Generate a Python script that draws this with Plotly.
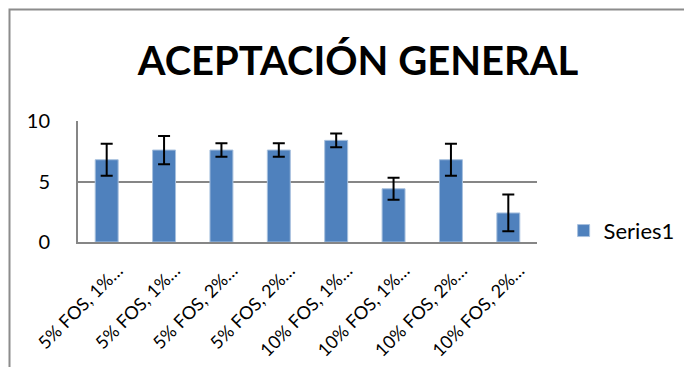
import plotly.graph_objects as go

# data
labels = ['5% FOS, 1%…', '5% FOS, 1%…', '5% FOS, 2%…', '5% FOS, 2%…',
          '10% FOS, 1%…', '10% FOS, 1%…', '10% FOS, 2%…', '10% FOS, 2%…']
positions = [0, 1, 2, 3, 4, 5, 6, 7]
values = [6.8, 7.6, 7.6, 7.6, 8.4, 4.4, 6.8, 2.4]
errors = [1.33, 1.17, 0.56, 0.56, 0.56, 0.9, 1.33, 1.52]

FONT = 'Lato'
GRID = '#868686'

# the page body adds an 8px offset, so the figure is 8px smaller each way
W, H = 684, 359
L, R, T, B = 70, 155, 113, 125
PW, PH = W - L - R, H - T - B

fig = go.Figure()

fig.add_trace(go.Bar(
    x=positions, y=values, name='Series1',
    marker=dict(color='#4F81BD', line=dict(color='#A7C0DE', width=1)),
    error_y=dict(type='data', array=errors, visible=True,
                 color='black', thickness=2, width=6),
))

# outer chart border (runs off the right and bottom edges)
fig.add_shape(type='rect', xref='paper', yref='paper',
              x0=(1.5 - L) / PW, x1=(W + 20 - L) / PW,
              y0=-(B + 20) / PH, y1=1 + (T - 1.5) / PH,
              line=dict(color='#8C8C8C', width=2), fillcolor='rgba(0,0,0,0)')

fig.update_layout(
    width=W, height=H,
    margin=dict(l=L, r=R, t=T, b=B, autoexpand=False),
    paper_bgcolor='white', plot_bgcolor='white',
    bargap=0.6,
    title=dict(text='<b>ACEPTACIÓN GENERAL</b>', x=(350 - L) / PW,
               xanchor='center', xref='paper', y=1 - 53 / H, yanchor='middle',
               font=dict(family=FONT, size=40, color='black')),
    showlegend=True,
    legend=dict(x=1.058, xanchor='left', y=0.093, yanchor='middle',
                font=dict(family=FONT, size=22, color='black'),
                itemwidth=30, bgcolor='rgba(0,0,0,0)'),
    xaxis=dict(tickvals=positions, ticktext=labels, tickangle=-45,
               range=[-0.5, 7.5], showgrid=False, showline=True,
               linecolor=GRID, linewidth=2, ticks='', automargin=False,
               tickfont=dict(family=FONT, size=18, color='black'),
               ticklabelshift=11, ticklabelstandoff=9),
    yaxis=dict(range=[0, 10], dtick=5, showgrid=True, gridcolor=GRID,
               gridwidth=2, showline=True, linecolor=GRID, linewidth=2,
               zeroline=False, ticks='', automargin=False,
               tickfont=dict(family=FONT, size=20, color='black'),
               ticklabelstandoff=22),
)

fig.write_html("out.html")
